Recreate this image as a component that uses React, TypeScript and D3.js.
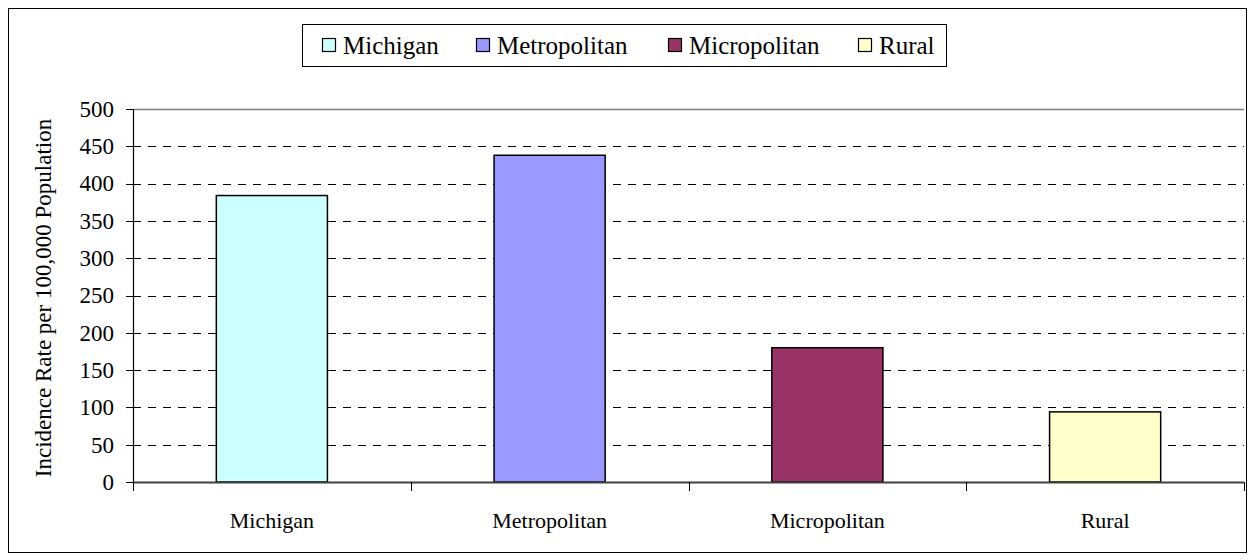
import React from "react";
import * as d3 from "d3";

const categories = ["Michigan", "Metropolitan", "Micropolitan", "Rural"];
const values = [384, 438, 180, 94];
const colors = ["#CCFFFF", "#9999FF", "#993366", "#FFFFCC"];
const yTicks = [0, 50, 100, 150, 200, 250, 300, 350, 400, 450, 500];
const yTitle = "Incidence Rate per 100,000 Population";

const W = 1252;
const H = 560;
const plot = { left: 133, right: 1244, top: 109, bottom: 482 };
const FONT = "'Liberation Serif', 'Times New Roman', serif";
const tf = { fontFamily: FONT };

export default function App() {
  const x = d3
    .scaleBand<string>()
    .domain(categories)
    .range([plot.left, plot.right])
    .paddingInner(0.6)
    .paddingOuter(0.3);
  const y = d3.scaleLinear().domain([0, 500]).range([plot.bottom, plot.top]);
  const step = x.step();
  const legendX = [322, 476, 668, 858];

  return (
    <svg width={W} height={H} style={{ position: "absolute", left: 0, top: 0, background: "#fff" }}>
      <rect x={8.5} y={8.5} width={1238} height={544} fill="#fff" stroke="#000" strokeWidth={1} />
      {yTicks
        .filter((t) => t > 0 && t < 500)
        .map((t) => (
          <line
            key={t}
            x1={plot.left}
            x2={plot.right}
            y1={Math.round(y(t)) + 0.5}
            y2={Math.round(y(t)) + 0.5}
            stroke="#000"
            strokeDasharray="8,7"
          />
        ))}
      <line x1={plot.left} x2={plot.right} y1={plot.top + 0.5} y2={plot.top + 0.5} stroke="#808080" strokeWidth={1.5} />
      {categories.map((c, i) => (
        <rect
          key={c}
          x={x(c)}
          y={y(values[i])}
          width={x.bandwidth()}
          height={y(0) - y(values[i])}
          fill={colors[i]}
          stroke="#000"
          strokeWidth={1.5}
        />
      ))}
      <line x1={plot.left + 0.5} x2={plot.left + 0.5} y1={plot.top} y2={plot.bottom} stroke="#000" strokeWidth={1.2} />
      {yTicks.map((t) => (
        <g key={t}>
          <line x1={plot.left - 7} x2={plot.left} y1={Math.round(y(t)) + 0.5} y2={Math.round(y(t)) + 0.5} stroke="#000" />
          <text x={114} y={y(t)} dy="0.34em" textAnchor="end" fontSize={23} fill="#000" style={tf}>
            {t}
          </text>
        </g>
      ))}
      <line x1={plot.left} x2={plot.right} y1={plot.bottom + 0.5} y2={plot.bottom + 0.5} stroke="#404040" strokeWidth={2} />
      {d3.range(categories.length + 1).map((i) => {
        const tx = Math.round(plot.left + i * step) + 0.5;
        return <line key={i} x1={tx} x2={tx} y1={plot.bottom} y2={plot.bottom + 9} stroke="#000" />;
      })}
      {categories.map((c) => (
        <text key={c} x={(x(c) ?? 0) + x.bandwidth() / 2} y={528} textAnchor="middle" fontSize={22} fill="#000" style={tf}>
          {c}
        </text>
      ))}
      <text
        transform={`translate(51,298) rotate(-90)`}
        textAnchor="middle"
        fontSize={23}
        fill="#000"
        style={tf}
      >
        {yTitle}
      </text>
      <rect x={302.5} y={24.5} width={644} height={42} fill="#fff" stroke="#000" />
      {categories.map((c, i) => (
        <g key={c}>
          <rect x={legendX[i] + 0.5} y={38.5} width={13} height={13} fill={colors[i]} stroke="#000" strokeWidth={1.2} />
          <text x={legendX[i] + 21} y={54} fontSize={25} fill="#000" style={tf}>
            {c}
          </text>
        </g>
      ))}
    </svg>
  );
}
